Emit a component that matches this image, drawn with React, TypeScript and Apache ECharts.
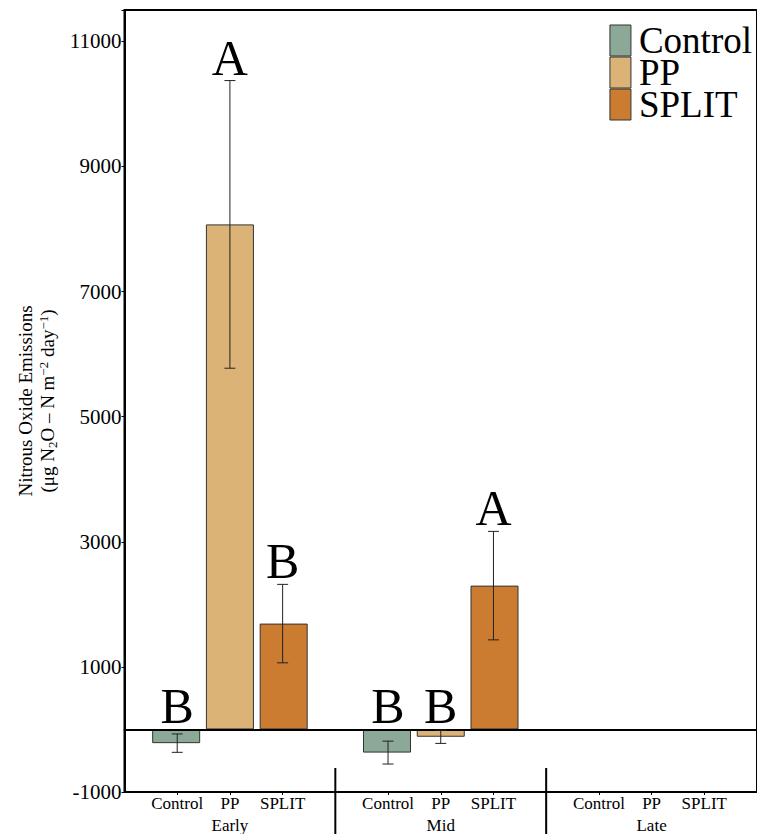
import React, { useEffect, useRef } from "react";
import * as echarts from "echarts";

const groups = ["Early", "Mid", "Late"];
const treatments = ["Control", "PP", "SPLIT"];
const controlMean: (number | null)[] = [-219, -370, null];
const controlSE: (number | null)[] = [147, 183, null];
const ppMean: (number | null)[] = [8073, -117, null];
const ppSE: (number | null)[] = [2299, 106, null];
const splitMean: (number | null)[] = [1692, 2299, null];
const splitSE: (number | null)[] = [627, 867, null];
const controlLetters = ["B", "B", ""];
const ppLetters = ["A", "B", ""];
const splitLetters = ["B", "A", ""];
const yTicks = { min: -1000, max: 11500, interval: 2000 };
const colors = ["#8ca897", "#dbb377", "#cb7c30"];

const FONT = "Liberation Serif";

const means = [controlMean, ppMean, splitMean];
const ses = [controlSE, ppSE, splitSE];
const letters = [controlLetters, ppLetters, splitLetters];

type ErrItem = { x: number; lo: number; hi: number; letter: string };
const errItems: ErrItem[] = [];
groups.forEach((_, g) => {
  treatments.forEach((_, t) => {
    const m = means[t][g];
    const s = ses[t][g];
    if (m == null || s == null) return;
    errItems.push({ x: g * 4 + 1 + t, lo: m - s, hi: m + s, letter: letters[t][g] });
  });
});
const subPositions: number[] = [];
groups.forEach((_, g) => treatments.forEach((_, t) => subPositions.push(g * 4 + 1 + t)));
const separators = groups.slice(1).map((_, i) => (i + 1) * 4);

export default function App() {
  const ref = useRef<HTMLDivElement>(null);
  useEffect(() => {
    if (!ref.current) return;
    const chart = echarts.init(ref.current, null, { renderer: "svg" });
    const barSeries = treatments.map((name, t) => ({
      name,
      type: "bar",
      xAxisIndex: 0,
      yAxisIndex: 0,
      barWidth: 48,
      barGap: "12%",
      data: means[t].map((v) => (v == null ? "-" : v)),
      itemStyle: { color: colors[t], borderColor: "#333", borderWidth: 1 },
      z: 2,
      ...(t === 0
        ? {
            markLine: {
              silent: true,
              symbol: "none",
              label: { show: false },
              lineStyle: { color: "#000", width: 2, type: "solid" },
              data: [{ yAxis: 0 }],
              z: 5,
            },
          }
        : {}),
    }));
    const option: any = {
      animation: false,
      backgroundColor: "#fff",
      textStyle: { fontFamily: FONT },
      grid: {
        left: 124.5,
        right: -9.5,
        top: 10,
        bottom: 41,
        show: true,
        borderColor: "#000",
        borderWidth: 2,
        backgroundColor: "transparent",
      },
      legend: {
        orient: "vertical",
        right: 0,
        top: 17,
        icon: "rect",
        itemWidth: 21,
        itemHeight: 31,
        itemGap: -5,
        data: treatments,
        textStyle: {
          fontSize: 37,
          lineHeight: 31,
          fontFamily: FONT,
          color: "#000",
          padding: [0, 0, 0, 3],
        },
        itemStyle: { borderColor: "#333", borderWidth: 1 },
      },
      xAxis: [
        {
          type: "category",
          data: groups,
          boundaryGap: true,
          axisLine: { show: true, lineStyle: { color: "#000", width: 2 } },
          axisTick: { show: false },
          axisLabel: { fontSize: 17, fontFamily: FONT, color: "#000", margin: 25 },
          splitLine: { show: false },
        },
        {
          type: "value",
          min: 0,
          max: groups.length * 4,
          position: "bottom",
          axisLine: { show: false },
          axisTick: {
            show: true,
            length: 3,
            customValues: subPositions,
            lineStyle: { color: "#000", width: 1 },
          },
          axisLabel: {
            show: true,
            customValues: subPositions,
            fontSize: 17,
            fontFamily: FONT,
            color: "#000",
            margin: 3,
            formatter: (v: number) => treatments[(Math.round(v) % 4) - 1] ?? "",
          },
          splitLine: { show: false },
        },
      ],
      yAxis: {
        type: "value",
        min: yTicks.min,
        max: yTicks.max,
        interval: yTicks.interval,
        name: "{t|Nitrous Oxide Emissions}\n{t|(μg N}{sub|2}{t|O – N m}{sup|−2}{t| day}{sup|−1}{t|)}",
        nameLocation: "middle",
        nameRotate: 90,
        nameGap: 63,
        nameTextStyle: {
          fontSize: 19,
          fontFamily: FONT,
          color: "#000",
          lineHeight: 22,
          rich: {
            t: { fontSize: 19, fontFamily: FONT, color: "#000", lineHeight: 22 },
            sub: { fontSize: 13, fontFamily: FONT, color: "#000", verticalAlign: "bottom", lineHeight: 22 },
            sup: { fontSize: 13, fontFamily: FONT, color: "#000", verticalAlign: "top", lineHeight: 22 },
          },
        },
        axisLine: { show: true, lineStyle: { color: "#000", width: 2 } },
        axisTick: { show: true, length: 3, lineStyle: { color: "#000", width: 1 } },
        axisLabel: {
          fontSize: 21,
          fontFamily: FONT,
          color: "#000",
          margin: 3,
          formatter: (v: number) => (v > 11000 ? "" : String(v)),
        },
        splitLine: { show: false },
      },
      series: [
        ...barSeries,
        {
          type: "custom",
          name: "errorbars",
          xAxisIndex: 1,
          yAxisIndex: 0,
          clip: false,
          z: 6,
          data: errItems.map((e) => [e.x, e.lo, e.hi]),
          renderItem: (params: any, api: any) => {
            const item = errItems[params.dataIndex];
            const x = api.value(0);
            const top = api.coord([x, api.value(2)]);
            const bot = api.coord([x, api.value(1)]);
            const lab = api.coord([x, Math.max(api.value(2), 0)]);
            const cap = 5.5;
            const ls = { stroke: "#222", lineWidth: 1 };
            return {
              type: "group",
              children: [
                { type: "line", shape: { x1: top[0], y1: top[1], x2: bot[0], y2: bot[1] }, style: ls },
                { type: "line", shape: { x1: top[0] - cap, y1: top[1], x2: top[0] + cap, y2: top[1] }, style: ls },
                { type: "line", shape: { x1: bot[0] - cap, y1: bot[1], x2: bot[0] + cap, y2: bot[1] }, style: ls },
                {
                  type: "text",
                  x: lab[0],
                  y: lab[1] + 2,
                  style: {
                    text: item.letter,
                    fontSize: 50,
                    fontFamily: FONT,
                    fill: "#000",
                    align: "center",
                    verticalAlign: "bottom",
                  },
                },
              ],
            };
          },
        },
        {
          type: "custom",
          name: "separators",
          xAxisIndex: 1,
          yAxisIndex: 0,
          clip: false,
          z: 6,
          data: separators.map((s) => [s, yTicks.min]),
          renderItem: (params: any, api: any) => {
            const p = api.coord([api.value(0), api.value(1)]);
            return {
              type: "line",
              shape: { x1: p[0], y1: p[1] - 24, x2: p[0], y2: p[1] + 50 },
              style: { stroke: "#000", lineWidth: 2 },
            };
          },
        },
      ],
    };
    chart.setOption(option);
    return () => chart.dispose();
  }, []);
  return (
    <div
      ref={ref}
      style={{ position: "fixed", left: 0, top: 0, width: 757, height: 834, background: "#fff" }}
    />
  );
}
